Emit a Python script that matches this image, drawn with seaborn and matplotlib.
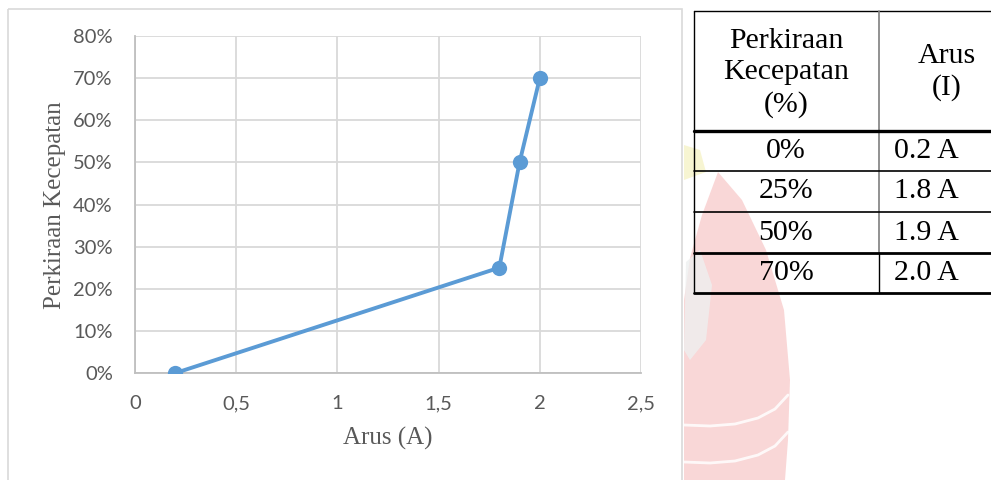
import matplotlib
matplotlib.use("Agg")
import matplotlib.pyplot as plt
from matplotlib.patches import Rectangle, Polygon
from matplotlib.ticker import PercentFormatter, FuncFormatter, MultipleLocator
import pandas as pd
import seaborn as sns

# Measured current versus estimated speed
arus = [0.2, 1.8, 1.9, 2.0]
kecepatan = [0.00, 0.25, 0.50, 0.70]

# Table contents
tabel_header = ["Perkiraan\nKecepatan\n(%)", "Arus\n(I)"]
tabel_kecepatan = ["0%", "25%", "50%", "70%"]
tabel_arus = ["0.2 A", "1.8 A", "1.9 A", "2.0 A"]

df = pd.DataFrame({"Arus (A)": arus, "Perkiraan Kecepatan": kecepatan})

sns.set_theme(style="whitegrid")
plt.rcParams["font.family"] = ["Lato", "DejaVu Sans"]

W, H = 991, 480
fig = plt.figure(figsize=(W / 100, H / 100), dpi=100)
fig.patch.set_facecolor("white")

# Page-level overlay in pixel coordinates (chart frame, watermark, table)
page = fig.add_axes([0, 0, 1, 1], zorder=0)
page.set_xlim(0, W)
page.set_ylim(H, 0)
page.axis("off")

# faint watermark behind the table
page.add_patch(Polygon([(718, 172), (742, 200), (766, 250), (784, 310), (790, 380),
                        (788, 440), (785, 480), (684, 480), (684, 300), (690, 258), (702, 215)],
                       closed=True, facecolor="#f8caca", edgecolor="none", alpha=0.75, zorder=1))
page.add_patch(Polygon([(686, 262), (700, 250), (712, 285), (706, 340), (690, 360), (684, 350)],
                       closed=True, facecolor="#eef0f0", edgecolor="none", alpha=0.8, zorder=1))
page.add_patch(Polygon([(684, 145), (700, 150), (706, 172), (684, 180)],
                       closed=True, facecolor="#f5f1c0", edgecolor="none", alpha=0.7, zorder=1))
for yy in [425, 462]:
    page.plot([684, 710, 735, 758, 775, 788], [yy, yy + 1, yy - 1, yy - 7, yy - 16, yy - 30],
              color="white", lw=2.0, alpha=0.85, solid_capstyle="round", zorder=1.5)

# chart frame
page.add_patch(Rectangle((7.5, 8.5), 674, 480, facecolor="none",
                         edgecolor="#d9d9d9", linewidth=1.2, zorder=2))

# table
serif = ["Liberation Serif", "DejaVu Serif"]
tl, tm, tr = 694, 879, 995
row_y = [131, 171, 212, 253, 293]
page.plot([tl, tr], [11, 11], color="black", lw=1.0, zorder=3)
page.plot([tl, tl], [11, 293], color="black", lw=1.0, zorder=3)
page.plot([tm, tm], [11, 253], color="#7f7f7f", lw=1.2, zorder=3)
page.plot([tm, tm], [253, 293], color="black", lw=1.0, zorder=3)
for y, lw in zip(row_y, [2.4, 1.2, 1.2, 2.0, 2.0]):
    page.plot([tl, tr], [y, y], color="black", lw=lw, zorder=3)

fs_tab = 21.5
page.text(786, 73, tabel_header[0], ha="center", va="center", fontsize=fs_tab,
          family=serif, color="black", linespacing=1.25, zorder=4)
page.text(947, 72, tabel_header[1], ha="center", va="center", fontsize=fs_tab,
          family=serif, color="black", linespacing=1.25, zorder=4)
for i, (k, a) in enumerate(zip(tabel_kecepatan, tabel_arus)):
    yc = (row_y[i] + row_y[i + 1]) / 2
    page.text(786, yc, k, ha="center", va="center", fontsize=fs_tab, family=serif, color="black", zorder=4)
    page.text(926, yc, a, ha="center", va="center", fontsize=fs_tab, family=serif, color="black", zorder=4)

# line chart
x0, x1, y0, y1 = 135, 641, 36, 373
ax = fig.add_axes([x0 / W, 1 - y1 / H, (x1 - x0) / W, (y1 - y0) / H], zorder=1)
ax.set_facecolor("white")
sns.lineplot(data=df, x="Arus (A)", y="Perkiraan Kecepatan", ax=ax, color="#5b9bd5",
             linewidth=2.8, marker="o", markersize=11, markeredgewidth=0, sort=False, zorder=5)

ax.set_xlim(0, 2.5)
ax.set_ylim(0, 0.8)
ax.xaxis.set_major_locator(MultipleLocator(0.5))
ax.yaxis.set_major_locator(MultipleLocator(0.1))
ax.yaxis.set_major_formatter(PercentFormatter(1.0, decimals=0))
ax.xaxis.set_major_formatter(FuncFormatter(lambda v, p: f"{v:g}".replace(".", ",")))
ax.grid(True, color="#d9d9d9", linewidth=1.3)
for s in ["top", "right"]:
    ax.spines[s].set_visible(False)
for s in ["left", "bottom"]:
    ax.spines[s].set_color("#bfbfbf")
    ax.spines[s].set_linewidth(1.3)
ax.tick_params(axis="both", length=0, labelsize=14.5, labelcolor="#595959")
ax.tick_params(axis="y", pad=16)
ax.tick_params(axis="x", pad=16)

ax.set_xlabel("Arus (A)", fontsize=18, family=serif, color="#595959")
ax.set_ylabel("Perkiraan Kecepatan", fontsize=18, family=serif, color="#595959")
ax.xaxis.set_label_coords((388 - x0) / (x1 - x0), -(438 - y1) / (y1 - y0))
ax.yaxis.set_label_coords(-(x0 - 55) / (x1 - x0), (y1 - 205) / (y1 - y0))
ax.xaxis.label.set_va("center")
ax.yaxis.label.set_va("center")

fig.savefig("out.png", dpi=100, facecolor="white")
